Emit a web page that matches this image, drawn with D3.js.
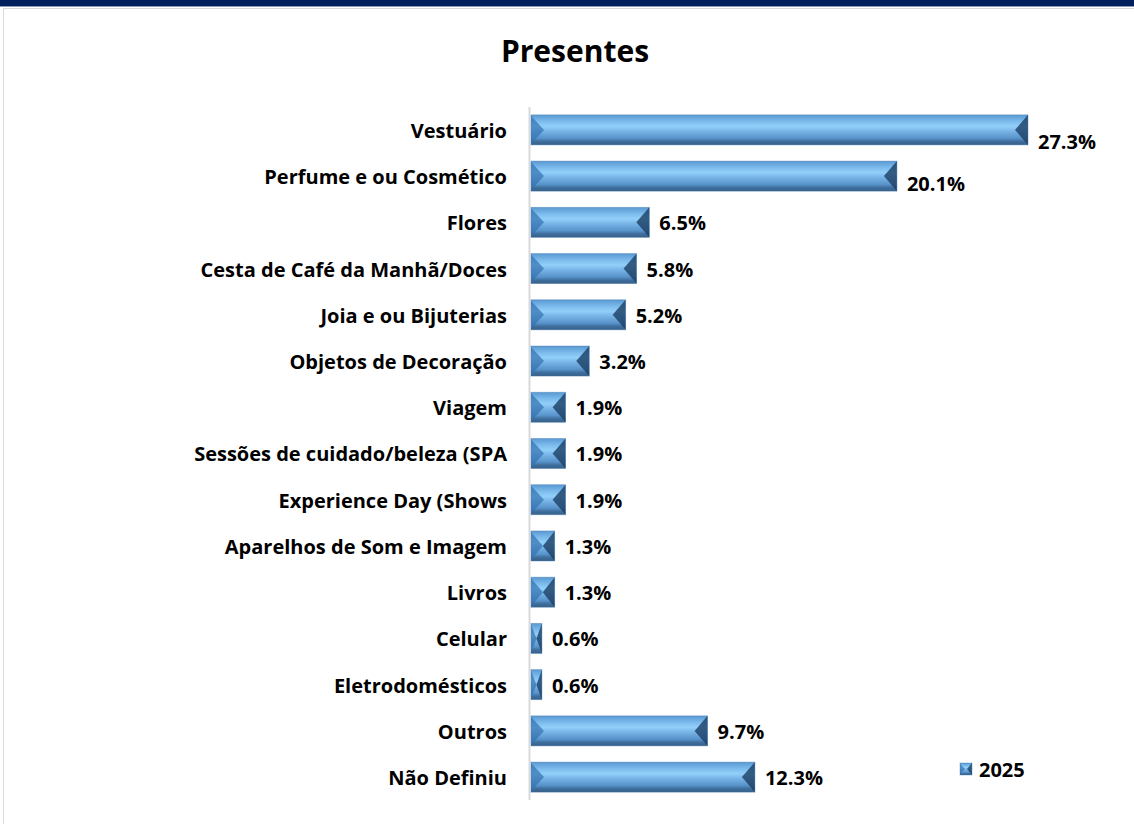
<!DOCTYPE html>
<html>
<head>
<meta charset="utf-8">
<script src="https://cdn.jsdelivr.net/npm/d3@7/dist/d3.min.js"></script>
<style>
  body { margin: 0; background: #fff; }
  svg text { font-family: "Open Sans", Lato, sans-serif; font-weight: bold; fill: #000; }
</style>
</head>
<body>
<svg id="chart" width="1134" height="824"></svg>
<script>
// data
var categories = ["Vestuário", "Perfume e ou Cosmético", "Flores", "Cesta de Café da Manhã/Doces",
  "Joia e ou Bijuterias", "Objetos de Decoração", "Viagem", "Sessões de cuidado/beleza (SPA",
  "Experience Day (Shows", "Aparelhos de Som e Imagem", "Livros", "Celular",
  "Eletrodomésticos", "Outros", "Não Definiu"];
var values2025 = [27.3, 20.1, 6.5, 5.8, 5.2, 3.2, 1.9, 1.9, 1.9, 1.3, 1.3, 0.6, 0.6, 9.7, 12.3];
var seriesName = "2025";

var svg = d3.select("#chart");
var W = 1134, H = 824;

// top band + frame
svg.append("rect").attr("x", 0).attr("y", 0).attr("width", W).attr("height", 6).attr("fill", "#001f5b");
svg.append("rect").attr("x", 0).attr("y", 6).attr("width", W).attr("height", 1).attr("fill", "#8a9ab8");
svg.append("rect").attr("x", 3.5).attr("y", 8.5).attr("width", W + 10).attr("height", H)
  .attr("fill", "none").attr("stroke", "#d9d9d9");

svg.append("text").attr("x", 575).attr("y", 62).attr("text-anchor", "middle")
  .style("font-size", "30px").text("Presentes");

var defs = svg.append("defs");
var grad = defs.append("linearGradient").attr("id", "barGrad")
  .attr("x1", 0).attr("y1", 0).attr("x2", 0).attr("y2", 1);
[[0, "#5a98d2"], [0.2, "#79b8ea"], [0.38, "#92d0fa"], [0.55, "#77b3e6"], [0.78, "#5792c9"], [0.88, "#3f6f9e"], [1, "#365f88"]].forEach(function(s){
  grad.append("stop").attr("offset", s[0]).attr("stop-color", s[1]);
});

var x0 = 531;
var x = d3.scaleLinear().domain([0, 27.3]).range([x0, 1028]);
var y = d3.scaleBand().domain(categories).range([107, 800]).paddingInner(0.35).paddingOuter(0.17);

var g = svg.append("g");

// category axis
g.append("line").attr("x1", x0 - 1.5).attr("x2", x0 - 1.5).attr("y1", 107).attr("y2", 800)
  .attr("stroke", "#d9d9d9").attr("stroke-width", 2);

var row = g.selectAll(".row").data(categories).enter().append("g").attr("class", "row")
  .attr("transform", function(d){ return "translate(0," + y(d) + ")"; });

row.append("text").attr("x", 507).attr("y", y.bandwidth() / 2 + 1).attr("dy", "0.35em")
  .attr("text-anchor", "end").style("font-size", "20px").text(function(d){ return d; });

function bevel(sel, w, h, e) {
  sel.append("rect").attr("width", w).attr("height", h).attr("fill", "url(#barGrad)");
  // left bevel: triangle pointing in
  sel.append("path").attr("d", "M0,1 L" + e + "," + (h / 2) + " L0," + (h - 1) + "Z")
    .attr("fill", "#3272b0").attr("opacity", 0.7);
  // right bevel
  sel.append("path").attr("d", "M" + w + ",0 L" + (w - e) + "," + (h / 2) + " L" + w + "," + h + "Z")
    .attr("fill", "#1c3f64").attr("opacity", 0.8);
  sel.append("rect").attr("width", w).attr("height", h).attr("fill", "none")
    .attr("stroke", "#4a7fb3").attr("stroke-opacity", 0.5).attr("stroke-width", 0.8);
}

row.each(function(d, i){
  var w = x(values2025[i]) - x0;
  var h = y.bandwidth();
  var e = Math.min(13, w / 2);
  var b = d3.select(this).append("g").attr("transform", "translate(" + x0 + ",0)");
  bevel(b, w, h, e);
});

row.append("text")
  .attr("x", function(d, i){ return x(values2025[i]) + 10; })
  .attr("y", function(d, i){ return y.bandwidth() / 2 + (i == 0 ? 12 : i == 1 ? 8 : 1); })
  .attr("dy", "0.35em").style("font-size", "20px")
  .text(function(d, i){ return values2025[i].toFixed(1) + "%"; });

// legend
var lg = svg.append("g").attr("transform", "translate(960,763)");
bevel(lg, 12, 12, 5);
lg.append("text").attr("x", 19).attr("y", 7).attr("dy", "0.35em").style("font-size", "20px").text(seriesName);
</script>
</body>
</html>
